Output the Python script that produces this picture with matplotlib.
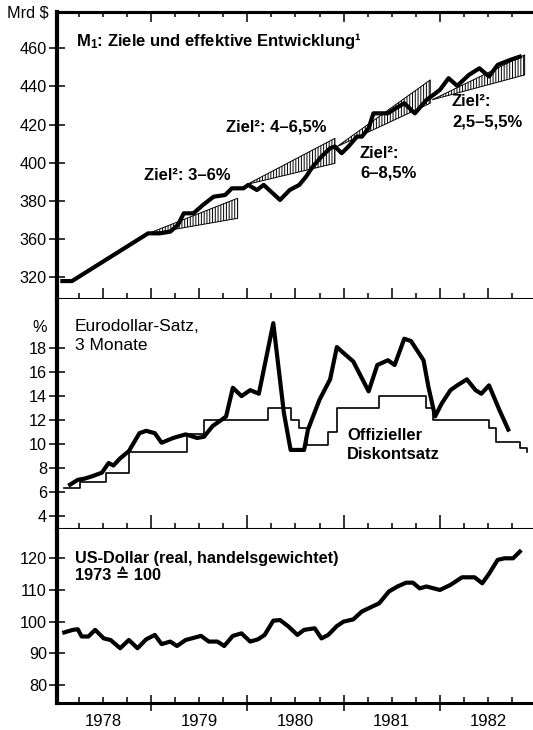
import numpy as np
import matplotlib.pyplot as plt

plt.rcParams['font.family'] = ['Liberation Sans', 'DejaVu Sans']
plt.rcParams['mathtext.default'] = 'regular'
plt.rcParams['hatch.linewidth'] = 0.7

# M1 in Mrd $
m1_x = [1978.08, 1978.18, 1978.97, 1979.09, 1979.20, 1979.28, 1979.34, 1979.44, 1979.54,
        1979.65, 1979.77, 1979.84, 1979.96, 1980.01, 1980.10, 1980.17, 1980.34, 1980.44,
        1980.54, 1980.61, 1980.68, 1980.77, 1980.86, 1980.91, 1980.98, 1981.05, 1981.14,
        1981.19, 1981.26, 1981.31, 1981.46, 1981.54, 1981.63, 1981.74, 1981.86, 1981.91,
        1982.00, 1982.09, 1982.18, 1982.30, 1982.41, 1982.51, 1982.60, 1982.73, 1982.83]
m1_y = [316.0, 316.0, 363.0, 363.0, 363.9, 367.4, 373.5, 373.5, 377.9,
        382.2, 383.1, 386.6, 386.6, 388.4, 385.7, 388.4, 380.5, 385.7,
        388.4, 392.7, 398.0, 403.2, 407.6, 408.5, 405.0, 408.5, 413.7,
        413.7, 418.1, 425.9, 425.9, 428.5, 431.2, 425.9, 432.9, 434.7,
        438.2, 444.3, 440.3, 446.0, 449.5, 445.2, 451.3, 453.9, 455.6]

# Zielkorridore (Beginn, Ende, Basis, untere/obere Grenze)
ziel_start = [1978.95, 1980.00, 1980.93, 1981.92]
ziel_ende = [1979.90, 1980.91, 1981.90, 1982.88]
ziel_basis = [362.5, 388.7, 408.4, 433.0]
ziel_unten = [370.9, 399.7, 431.2, 446.0]
ziel_oben = [381.4, 412.8, 443.4, 456.5]
ziel_text = ['Ziel²: 3–6%', 'Ziel²: 4–6,5%', 'Ziel²:\n6–8,5%', 'Ziel²:\n2,5–5,5%']

# Eurodollar-Satz, 3 Monate (%)
euro_x = [1978.16, 1978.24, 1978.31, 1978.39, 1978.49, 1978.56, 1978.61, 1978.68, 1978.77,
          1978.88, 1978.95, 1979.04, 1979.11, 1979.23, 1979.36, 1979.48, 1979.55, 1979.64,
          1979.73, 1979.78, 1979.85, 1979.94, 1980.03, 1980.12, 1980.27, 1980.38, 1980.45,
          1980.59, 1980.63, 1980.75, 1980.86, 1980.93, 1981.00, 1981.10, 1981.26, 1981.35,
          1981.46, 1981.53, 1981.63, 1981.70, 1981.83, 1981.88, 1981.95, 1982.02, 1982.11,
          1982.18, 1982.28, 1982.37, 1982.43, 1982.51, 1982.62, 1982.71]
euro_y = [6.6, 7.0, 7.1, 7.3, 7.6, 8.4, 8.2, 8.8, 9.4,
          10.9, 11.1, 10.9, 10.1, 10.5, 10.8, 10.5, 10.6, 11.5,
          12.0, 12.3, 14.7, 14.0, 14.5, 14.2, 20.1, 12.6, 9.5,
          9.5, 11.2, 13.7, 15.4, 18.1, 17.6, 16.9, 14.4, 16.6,
          17.0, 16.6, 18.8, 18.6, 17.0, 14.8, 12.3, 13.4, 14.5,
          14.9, 15.4, 14.5, 14.2, 14.9, 12.8, 11.2]

# Offizieller Diskontsatz (%), Aenderungszeitpunkte
disk_x = [1978.10, 1978.26, 1978.53, 1978.77, 1979.37, 1979.55, 1980.22, 1980.45, 1980.54,
          1980.62, 1980.84, 1980.93, 1981.37, 1981.86, 1981.93, 1982.51, 1982.58, 1982.83, 1982.90]
disk_y = [6.3, 6.8, 7.6, 9.3, 10.8, 12.0, 13.0, 12.0, 11.3,
          9.9, 11.0, 13.0, 14.0, 13.0, 12.0, 11.3, 10.2, 9.7, 9.3]

# US-Dollar real, handelsgewichtet (1973 = 100)
usd_x = [1978.10, 1978.19, 1978.24, 1978.28, 1978.35, 1978.42, 1978.51, 1978.58, 1978.68,
         1978.77, 1978.86, 1978.95, 1979.04, 1979.11, 1979.20, 1979.27, 1979.36, 1979.52,
         1979.60, 1979.69, 1979.76, 1979.85, 1979.94, 1980.03, 1980.11, 1980.18, 1980.27,
         1980.34, 1980.43, 1980.52, 1980.59, 1980.70, 1980.77, 1980.84, 1980.93, 1981.00,
         1981.10, 1981.19, 1981.28, 1981.37, 1981.47, 1981.56, 1981.65, 1981.72, 1981.79,
         1981.86, 1982.00, 1982.11, 1982.23, 1982.36, 1982.44, 1982.51, 1982.60, 1982.67,
         1982.76, 1982.83]
usd_y = [96.6, 97.4, 97.6, 95.3, 95.3, 97.4, 94.7, 94.2, 91.6,
         94.2, 91.6, 94.4, 95.8, 92.9, 93.7, 92.3, 94.2, 95.5,
         93.7, 93.7, 92.3, 95.5, 96.3, 93.7, 94.4, 95.8, 100.3,
         100.5, 98.4, 95.8, 97.4, 97.9, 94.7, 95.8, 98.6, 100.0,
         100.7, 103.2, 104.5, 105.8, 109.5, 111.1, 112.3, 112.3, 110.5,
         111.1, 110.0, 111.6, 114.0, 114.0, 112.1, 115.1, 119.5, 120.0,
         120.0, 122.1]

jahre = [1978, 1979, 1980, 1981, 1982]

W, H = 533, 730
fig = plt.figure(figsize=(W / 100, H / 100), dpi=100)


def rect(top, bottom):
    return [57 / W, 1 - bottom / H, (536.2 - 57) / W, (bottom - top) / H]


ax1 = fig.add_axes(rect(12, 299))
ax2 = fig.add_axes(rect(299, 529))
ax3 = fig.add_axes(rect(529, 703))


# Skalenbruch unterhalb 360
def fwd(y):
    y = np.asarray(y, dtype=float)
    return np.where(y < 360, 360 - (360 - y) / 2, y)


def inv(y):
    y = np.asarray(y, dtype=float)
    return np.where(y < 360, 360 - (360 - y) * 2, y)


ax1.set_yscale('function', functions=(fwd, inv))

quartale = [j + q for j in range(1978, 1983) for q in (0.25, 0.5, 0.75)]
halbjahre = [j + h for j in range(1978, 1983) for h in (0.5, 1.0) if j + h < 1983]
viertel = [j + q for j in range(1978, 1983) for q in (0.25, 0.75)]

for ax in (ax1, ax2, ax3):
    ax.set_xlim(1978.024, 1983.0)
    ax.spines['right'].set_visible(False)
    ax.spines['left'].set_linewidth(3)
    ax.spines['bottom'].set_linewidth(2.2)
    ax.spines['top'].set_linewidth(2.2)
    ax.tick_params(axis='y', direction='inout', length=12, width=1.1, pad=1.2,
                   labelsize=11.7)
    ax.tick_params(axis='x', which='both', direction='in', width=1.1,
                   labelbottom=False, top=False)
ax2.spines['top'].set_visible(False)
ax3.spines['top'].set_visible(False)

# Panel 1: M1
for i in range(len(ziel_start)):
    ax1.fill_between([ziel_start[i], ziel_ende[i]], [ziel_basis[i], ziel_unten[i]],
                     [ziel_basis[i], ziel_oben[i]], facecolor='white', edgecolor='black',
                     hatch='||||||', linewidth=0.7, zorder=2)
ax1.plot(m1_x, m1_y, color='black', lw=3, solid_joinstyle='round', zorder=3)
ax1.set_ylim(297.2, 479.0)
ax1.set_yticks([320, 360, 380, 400, 420, 440, 460])
ax1.set_yticklabels(['320', '360', '380', '400', '420', '440', '460'])
ax1.set_xticks(halbjahre)
ax1.set_xticks(viertel, minor=True)
ax1.tick_params(axis='x', which='major', length=8)
ax1.tick_params(axis='x', which='minor', length=4.3)
oben = ax1.secondary_xaxis('top')
oben.set_xticks(jahre[1:], labels=[''] * 4)
oben.set_xticks(quartale, labels=[''] * len(quartale), minor=True)
oben.tick_params(which='major', direction='in', length=7, width=1.1)
oben.tick_params(which='minor', direction='in', length=3.5, width=1.1)
oben.spines['top'].set_linewidth(2.2)

# Panel 2: Zinsen
ax2.plot(euro_x, euro_y, color='black', lw=3, solid_joinstyle='round', zorder=3)
ax2.step(disk_x, disk_y, where='post', color='black', lw=1.2, zorder=2)
ax2.set_ylim(2.89, 22.12)
ax2.set_yticks(range(4, 19, 2))
ax2.set_xticks(jahre[1:])
ax2.set_xticks(quartale, minor=True)
ax2.tick_params(axis='x', which='major', length=10)
ax2.tick_params(axis='x', which='minor', length=4.3)

# Panel 3: US-Dollar
ax3.plot(usd_x, usd_y, color='black', lw=3, solid_joinstyle='round', zorder=3)
ax3.set_ylim(74.3, 129.25)
ax3.set_yticks([80, 90, 100, 110, 120])
ax3.set_xticks(jahre[1:], labels=[''] * 4)
ax3.set_xticks(quartale, labels=[str(int(q)) if q % 1 == 0.5 else '' for q in quartale],
               minor=True)
ax3.tick_params(axis='x', which='major', direction='inout', length=12)
ax3.tick_params(axis='x', which='minor', length=4.3, labelbottom=True, pad=8,
                labelsize=12)


def ft(x, y, s, **kw):
    fig.text(x / W, 1 - y / H, s, va='center', ha='left', **kw)


ft(7, 13, 'Mrd $', fontsize=11.7)
ft(76, 41, 'M$_1$: Ziele und effektive Entwicklung¹', fontsize=12, fontweight='bold')
ft(144.5, 176, ziel_text[0], fontsize=12, fontweight='bold')
ft(226, 127, ziel_text[1], fontsize=12, fontweight='bold', linespacing=1.4)
ft(360, 163, ziel_text[2], fontsize=12, fontweight='bold', linespacing=1.4)
ft(452, 112, ziel_text[3], fontsize=12, fontweight='bold', linespacing=1.45)

ft(32, 327, '%', fontsize=11.7)
ft(75, 336, 'Eurodollar-Satz,\n3 Monate', fontsize=12.5, linespacing=1.37)
ft(347, 445, 'Offizieller\nDiskontsatz', fontsize=12, fontweight='bold', linespacing=1.27)

ft(75, 567, 'US-Dollar (real, handelsgewichtet)\n1973 ≙ 100', fontsize=11.7,
   fontweight='bold', linespacing=1.15)

fig.savefig('out.png', dpi=100)
